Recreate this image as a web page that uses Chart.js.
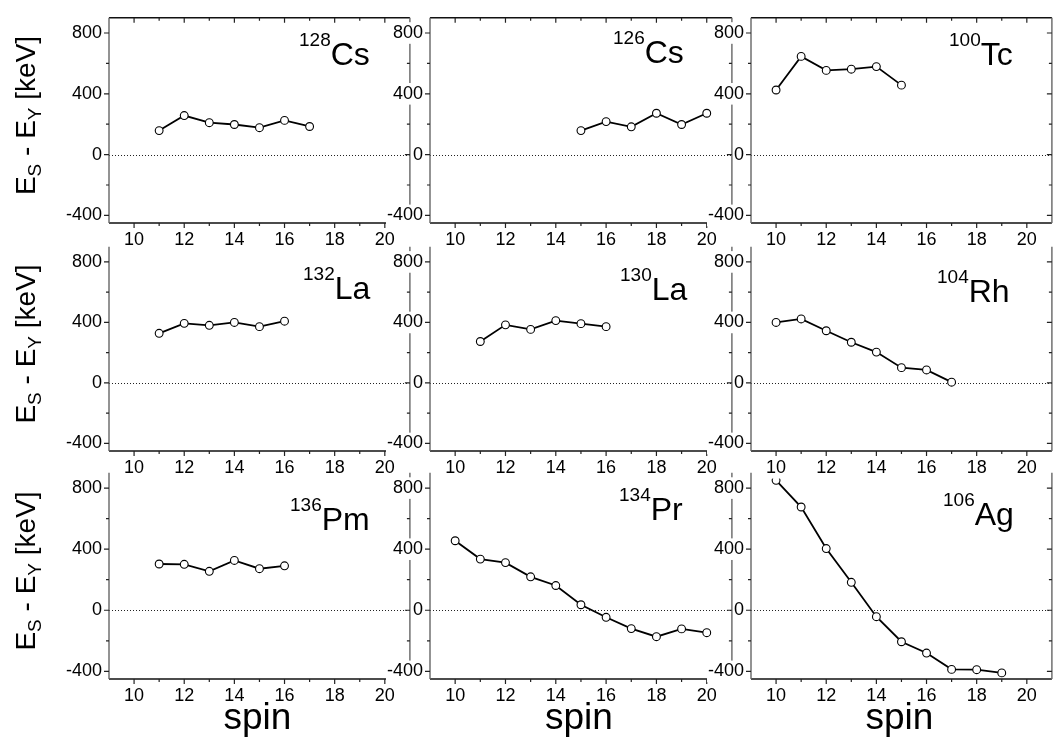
<!DOCTYPE html>
<html><head><meta charset="utf-8">
<script src="https://cdn.jsdelivr.net/npm/chart.js@4/dist/chart.umd.min.js"></script>
<style>
html,body{margin:0;padding:0;background:#fff;}
#wrap{position:relative;width:1057px;height:750px;overflow:hidden;background:#fff;}
canvas{position:absolute;}
</style></head><body><div id="wrap"></div>
<script>
// ---- data ----
const xTicks = [10, 12, 14, 16, 18, 20];
const xMinorTicks = [11, 13, 15, 17, 19];
const yTicks = [-400, 0, 400, 800];
const yMinorTicks = [-200, 200, 600];
const massNumbers = ['128', '126', '100', '132', '130', '104', '136', '134', '106'];
const elements = ['Cs', 'Cs', 'Tc', 'La', 'La', 'Rh', 'Pm', 'Pr', 'Ag'];

const spinCs128 = [11, 12, 13, 14, 15, 16, 17];
const valCs128  = [158, 257, 210, 198, 177, 225, 185];
const spinCs126 = [15, 16, 17, 18, 19, 20];
const valCs126  = [158, 217, 183, 272, 198, 272];
const spinTc100 = [10, 11, 12, 13, 14, 15];
const valTc100  = [425, 646, 554, 562, 579, 457];
const spinLa132 = [11, 12, 13, 14, 15, 16];
const valLa132  = [328, 394, 381, 400, 372, 408];
const spinLa130 = [11, 12, 13, 14, 15, 16];
const valLa130  = [274, 384, 354, 412, 392, 372];
const spinRh104 = [10, 11, 12, 13, 14, 15, 16, 17];
const valRh104  = [400, 423, 345, 269, 204, 101, 86, 5];
const spinPm136 = [11, 12, 13, 14, 15, 16];
const valPm136  = [303, 301, 255, 326, 272, 291];
const spinPr134 = [10, 11, 12, 13, 14, 15, 16, 17, 18, 19, 20];
const valPr134  = [455, 335, 312, 219, 162, 36, -46, -120, -173, -122, -147];
const spinAg106 = [10, 11, 12, 13, 14, 15, 16, 17, 18, 19];
const valAg106  = [851, 676, 404, 183, -42, -206, -280, -387, -389, -410];

const panelSpins = [spinCs128, spinCs126, spinTc100, spinLa132, spinLa130, spinRh104, spinPm136, spinPr134, spinAg106];
const panelVals  = [valCs128, valCs126, valTc100, valLa132, valLa130, valRh104, valPm136, valPr134, valAg106];

// ---- layout (page pixels) ----
const FONT = '"Liberation Sans", Arial, Helvetica, sans-serif';
const colLeft  = [109, 430, 751];
const colRight = [411, 733, 1053];
const rowTop    = [8, 237, 463];
const rowBottom = [223, 451, 679];
const labelPos = [[299, 65], [613, 63], [949, 65], [303, 299], [620, 300], [937, 302], [290, 530], [619, 520], [943, 525]];

Chart.defaults.font.family = FONT;
Chart.defaults.color = '#000';

const decorBelow = {
  id: 'decorBelow',
  beforeDatasetsDraw(chart, args, opts) {
    const ctx = chart.ctx;
    const a = chart.chartArea;
    const xs = chart.scales.x, ys = chart.scales.y;
    const showTop = opts.row === 0;
    ctx.save();
    const y0 = Math.round(ys.getPixelForValue(0)) + 0.5;
    ctx.strokeStyle = '#222'; ctx.lineWidth = 1; ctx.setLineDash([1, 2]);
    ctx.beginPath(); ctx.moveTo(a.left, y0); ctx.lineTo(a.right, y0); ctx.stroke();
    ctx.setLineDash([]);
    ctx.lineWidth = 1.4;
    ctx.strokeStyle = '#111';
    ctx.beginPath();
    if (showTop) { ctx.moveTo(a.left, a.top); ctx.lineTo(a.right, a.top); }
    ctx.moveTo(a.left, a.bottom); ctx.lineTo(a.right, a.bottom);
    ctx.stroke();
    ctx.strokeStyle = '#666';
    ctx.beginPath();
    ctx.moveTo(a.left, a.top); ctx.lineTo(a.left, a.bottom);
    ctx.moveTo(a.right, a.top); ctx.lineTo(a.right, a.bottom);
    ctx.stroke();
    ctx.lineWidth = 1.2; ctx.strokeStyle = '#222';
    ctx.beginPath();
    const tx = (v, len) => {
      const p = xs.getPixelForValue(v);
      ctx.moveTo(p, a.bottom); ctx.lineTo(p, a.bottom + len);
      if (showTop) { ctx.moveTo(p, a.top); ctx.lineTo(p, a.top + len); }
    };
    const ty = (v, len) => {
      const p = ys.getPixelForValue(v);
      ctx.moveTo(a.left - len, p); ctx.lineTo(a.left, p);
      ctx.moveTo(a.right - len, p); ctx.lineTo(a.right, p);
    };
    xTicks.forEach(v => tx(v, 5)); xMinorTicks.forEach(v => tx(v, 3));
    yTicks.forEach(v => ty(v, 5)); yMinorTicks.forEach(v => ty(v, 3));
    ctx.stroke();
    ctx.restore();
  }
};

const decor = {
  id: 'decor',
  afterDatasetsDraw(chart, args, opts) {
    const ctx = chart.ctx;
    const a = chart.chartArea;
    ctx.save();
    const ox = chart.canvas.offsetLeft, oy = chart.canvas.offsetTop;
    const lp = labelPos[opts.idx];
    const lx = lp[0] - ox, ly = lp[1] - oy;
    ctx.fillStyle = '#000';
    ctx.textBaseline = 'alphabetic'; ctx.textAlign = 'left';
    ctx.font = '19px ' + FONT;
    const sup = massNumbers[opts.idx];
    ctx.fillText(sup, lx, ly - 19);
    const sw = ctx.measureText(sup).width;
    ctx.font = '32px ' + FONT;
    ctx.fillText(elements[opts.idx], lx + sw, ly);
    if (opts.col === 0) {
      const cy = (rowTop[opts.row] + rowBottom[opts.row]) / 2 - oy;
      const parts = [['E', 28, 0], ['S', 19, 6], [' - E', 28, 0], ['Y', 19, 6], [' [keV]', 28, 0]];
      let tot = 0;
      parts.forEach(p => { ctx.font = p[1] + 'px ' + FONT; tot += ctx.measureText(p[0]).width; });
      ctx.translate(35 - ox, cy);
      ctx.rotate(-Math.PI / 2);
      let x = -tot / 2;
      parts.forEach(p => { ctx.font = p[1] + 'px ' + FONT; ctx.fillText(p[0], x, p[2]); x += ctx.measureText(p[0]).width; });
      ctx.setTransform(1, 0, 0, 1, 0, 0);
    }
    if (opts.row === 2) {
      ctx.font = '37px ' + FONT; ctx.textAlign = 'center';
      ctx.fillText('spin', (a.left + a.right) / 2 - 2, 729 - oy);
    }
    ctx.restore();
  }
};

const wrap = document.getElementById('wrap');
for (let i = 0; i < 9; i++) {
  const row = Math.floor(i / 3), col = i % 3;
  const Lm = col === 0 ? colLeft[0] : 60;
  const Tm = 8;
  const Rm = 4;
  const Bm = row === 2 ? 750 - rowBottom[2] : 30;
  const cl = colLeft[col] - Lm, ct = rowTop[row] - Tm;
  const w = colRight[col] + Rm - cl, h = rowBottom[row] + Bm - ct;
  const cv = document.createElement('canvas');
  cv.width = w; cv.height = h;
  cv.style.left = cl + 'px'; cv.style.top = ct + 'px';
  cv.style.width = w + 'px'; cv.style.height = h + 'px';
  cv.style.zIndex = String((3 - row) * 10 + col);
  wrap.appendChild(cv);
  const tickFont = { size: 18 };
  new Chart(cv, {
    type: 'scatter',
    data: {
      datasets: [{
        data: panelSpins[i].map((s, k) => ({ x: s, y: panelVals[i][k] })),
        showLine: true,
        borderColor: '#000', borderWidth: 1.8,
        pointRadius: 3.9, pointBackgroundColor: '#fff', pointBorderColor: '#000', pointBorderWidth: 1.1,
        clip: false
      }]
    },
    options: {
      responsive: false, animation: false, devicePixelRatio: 1,
      layout: { padding: { left: 0, top: Tm, right: Rm, bottom: 0 } },
      plugins: { legend: { display: false }, tooltip: { enabled: false },
                 decor: { idx: i, row: row, col: col }, decorBelow: { row: row } },
      scales: {
        x: {
          type: 'linear', min: 9, max: 21,
          afterBuildTicks: s => { s.ticks = xTicks.map(v => ({ value: v })); },
          afterFit: s => { s.height = Bm; },
          grid: { display: false, drawTicks: false }, border: { display: false },
          ticks: { padding: 6, autoSkip: false, maxRotation: 0, color: '#000', font: tickFont,
                   showLabelBackdrop: true, backdropColor: '#fff', backdropPadding: { top: 0, bottom: 0, left: 1, right: 1 } }
        },
        y: {
          type: 'linear', min: -450, max: 900,
          afterBuildTicks: s => { s.ticks = yTicks.map(v => ({ value: v })); },
          afterFit: s => { s.width = Lm; },
          grid: { display: false, drawTicks: false }, border: { display: false },
          ticks: { padding: 7, color: '#000', font: tickFont,
                   showLabelBackdrop: true, backdropColor: '#fff', backdropPadding: { top: 0, bottom: 0, left: 1, right: 1 } }
        }
      }
    },
    plugins: [decorBelow, decor]
  });
}
</script></body></html>
